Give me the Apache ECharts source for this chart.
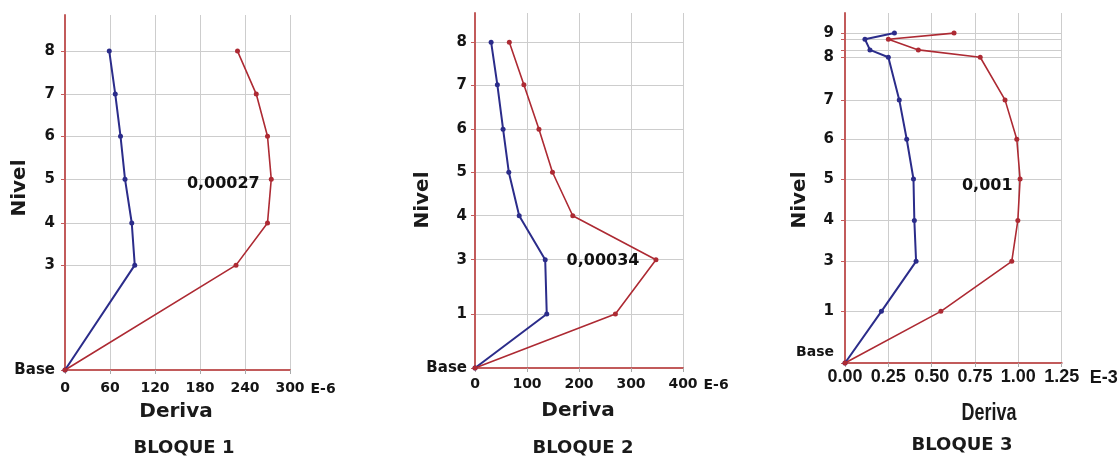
<!DOCTYPE html>
<html><head><meta charset="utf-8">
<script src="https://cdn.jsdelivr.net/npm/echarts@6/dist/echarts.min.js"></script>
<style>html,body{margin:0;padding:0;background:#fff}#c{width:1120px;height:468px}</style>
</head><body><div id="c"></div>
<script>
// ---- data (deriva) ----
const levels1 = ['Base', '3', '4', '5', '6', '7', '8'];
const heights1 = [0, 2.44, 3.42, 4.44, 5.44, 6.42, 7.42];
const blue1 = [0, 93, 89, 80, 74, 67, 59];          // E-6
const red1 = [0, 228, 270, 275, 270, 255, 230];     // E-6

const levels2 = ['Base', '1', '3', '4', '5', '6', '7', '8'];
const heights2 = [0, 1.24, 2.49, 3.50, 4.50, 5.49, 6.51, 7.49];
const blue2 = [0, 138, 135, 85, 65, 54, 43, 31];    // E-6
const red2 = [0, 270, 348, 188, 149, 123, 94, 66];  // E-6

const levels3 = ['Base', '1', '3', '4', '5', '6', '7', '8', '', '', '9'];
const heights3 = [0, 1.26, 2.48, 3.48, 4.49, 5.46, 6.42, 7.46, 7.64, 7.90, 8.05];
const blue3 = [0, 0.21, 0.41, 0.40, 0.395, 0.356, 0.313, 0.25, 0.144, 0.115, 0.285];   // E-3
const red3 = [0, 0.553, 0.962, 0.997, 1.01, 0.991, 0.923, 0.78, 0.423, 0.25, 0.629];   // E-3

const xMaxes = [300, 400, 1.25];
const xIntervals = [60, 100, 0.25];
const yMaxes = [8.26, 8.16, 8.54];
const unitLabels = ['E-6', 'E-6', 'E-3'];
const axisTitleX = 'Deriva';
const axisTitleY = 'Nivel';
const blockTitles = ['BLOQUE 1', 'BLOQUE 2', 'BLOQUE 3'];
const peakTexts = ['0,00027', '0,00034', '0,001'];
const peakIndex = [3, 2, 4];

// ---- layout / style ----
const panels = [
  {levels: levels1, heights: heights1, blue: blue1, red: red1},
  {levels: levels2, heights: heights2, blue: blue2, red: red2},
  {levels: levels3, heights: heights3, blue: blue3, red: red3}
];
const grids = [
  {left: 65, top: 15, width: 225, height: 355},
  {left: 475, top: 13, width: 208, height: 355},
  {left: 845, top: 13, width: 216.7, height: 350}
];
const unitGaps = [18, 20, 28];
const labelGapsPeak = [9, 14, 5];
const labelOffsetsPeak = [[0, 5], [0, 1], [0, 7]];
const xLabelMargin = [11, 9, 5];
const yLabelMargin = [10, 8, 11];
const derivaPos = [[176, 412], [578, 411], [989, 414]];
const blockPos = [[184, 448], [583, 448], [962, 445]];
const nivelPos = [[20, 188], [423, 200], [800, 200]];

const AXIS = '#c25b5b', GRID = '#cdcdcd', BLUE = '#2b2c8a', RED = '#ad2a33';
const BOLD = 'DejaVu Sans';
const NARROW = "'Liberation Sans Narrow', 'Liberation Sans', sans-serif";

const option = {
  animation: false,
  backgroundColor: '#fff',
  grid: grids.map(g => Object.assign({containLabel: false, outerBoundsMode: 'none'}, g)),
  xAxis: panels.map((p, i) => ({
    type: 'value', gridIndex: i, min: 0, max: xMaxes[i], interval: xIntervals[i],
    axisLine: {show: true, lineStyle: {color: AXIS, width: 2}},
    axisTick: {show: true, length: 4, lineStyle: {color: '#aaa'}},
    splitLine: {show: true, lineStyle: {color: GRID, width: 1}},
    axisLabel: {
      margin: xLabelMargin[i], color: '#151515',
      fontFamily: i === 2 ? NARROW : BOLD, fontWeight: 'bold',
      fontSize: i === 2 ? 18 : 14,
      formatter: v => i === 2 ? v.toFixed(2) : String(v)
    },
    name: unitLabels[i], nameLocation: 'end', nameGap: unitGaps[i],
    nameTextStyle: {
      color: '#151515', fontFamily: i === 2 ? NARROW : BOLD, fontWeight: 'bold',
      fontSize: i === 2 ? 18 : 14, verticalAlign: 'top', padding: [xLabelMargin[i] + 1, 0, 0, 0]
    }
  })),
  yAxis: panels.map((p, i) => ({
    type: 'value', gridIndex: i, min: 0, max: yMaxes[i],
    axisLine: {show: true, onZero: false, lineStyle: {color: AXIS, width: 2}},
    axisTick: {show: true, length: 4, customValues: p.heights, lineStyle: {color: AXIS}},
    splitLine: {show: true, lineStyle: {color: GRID, width: 1}},
    axisLabel: {
      margin: yLabelMargin[i], color: '#151515', fontFamily: BOLD, fontWeight: 'bold', fontSize: 15,
      customValues: p.heights.filter((h, k) => p.levels[k] !== ''),
      formatter: v => {
        const k = p.heights.findIndex(h => Math.abs(h - v) < 1e-6);
        const t = k >= 0 ? p.levels[k] : '';
        return (i === 2 && k === 0) ? '{up|' + t + '}' : t;
      },
      rich: {up: {fontFamily: BOLD, fontWeight: 'bold', fontSize: 14, color: '#151515', padding: [0, 0, 22, 0]}}
    }
  })),
  series: [],
  graphic: []
};

panels.forEach((p, i) => {
  const mk = (vals, color, width, withPeak) => ({
    type: 'line', xAxisIndex: i, yAxisIndex: i,
    data: vals.map((v, k) => {
      const d = {value: [v, p.heights[k]]};
      if (withPeak && k === peakIndex[i]) {
        d.label = {
          show: true, position: 'left', distance: labelGapsPeak[i], offset: labelOffsetsPeak[i],
          formatter: peakTexts[i], color: '#111', fontFamily: BOLD, fontWeight: 'bold', fontSize: 16
        };
      }
      return d;
    }),
    symbol: 'circle', symbolSize: 5, showSymbol: true,
    lineStyle: {color, width}, itemStyle: {color},
    label: {show: false}, z: withPeak ? 3 : 2
  });
  option.series.push(mk(p.blue, BLUE, 2, false));
  option.series.push(mk(p.red, RED, 1.6, true));

  option.graphic.push({type: 'text', x: derivaPos[i][0], y: derivaPos[i][1],
    scaleX: i === 2 ? 0.78 : 1,
    style: {text: axisTitleX, textAlign: 'center', textVerticalAlign: 'middle', fill: '#1a1a1a',
      font: i === 2 ? 'bold 23px Liberation Sans' : 'bold 20px DejaVu Sans'}});
  option.graphic.push({type: 'text', x: blockPos[i][0], y: blockPos[i][1],
    style: {text: blockTitles[i], textAlign: 'center', textVerticalAlign: 'middle', fill: '#1a1a1a',
      font: 'bold 18px DejaVu Sans'}});
  option.graphic.push({type: 'text', x: nivelPos[i][0], y: nivelPos[i][1], rotation: Math.PI / 2,
    style: {text: axisTitleY, textAlign: 'center', textVerticalAlign: 'middle', fill: '#1a1a1a',
      font: 'bold 20px DejaVu Sans'}});
});

const chart = echarts.init(document.getElementById('c'), null, {renderer: 'canvas'});
chart.setOption(option);
</script>
</body></html>
